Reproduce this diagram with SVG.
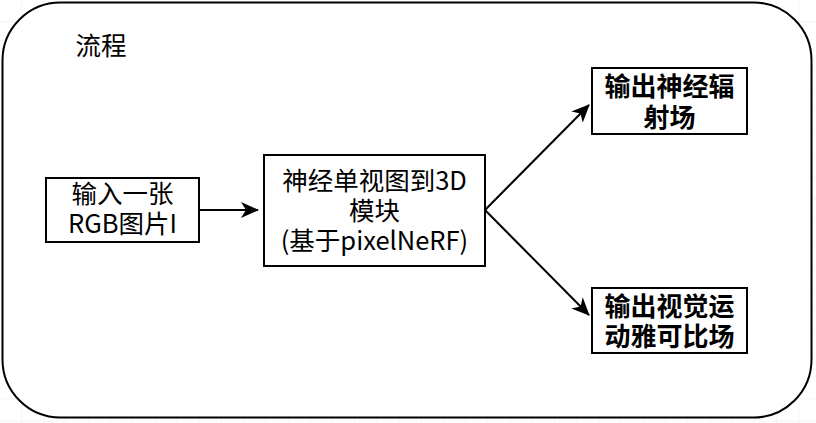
<svg xmlns="http://www.w3.org/2000/svg" width="816" height="423" viewBox="0 0 816 423">
<style>
.box{fill:#fff;stroke:#000;stroke-width:2}
.t{font-family:"Microsoft YaHei","Noto Sans CJK SC",sans-serif;font-size:25.5px;fill:#000;text-anchor:middle}
.b{font-weight:bold;font-size:26px}
.c{fill:none;stroke:#000;stroke-width:2}
</style>
<defs>
<pattern id="grid" width="22.2" height="22.2" patternUnits="userSpaceOnUse">
<path d="M22.2 0V22.2H0" fill="none" stroke="#ececec" stroke-width="1"/>
</pattern>
<marker id="arr" viewBox="0 0 18 16" refX="17" refY="8" markerWidth="18" markerHeight="16" markerUnits="userSpaceOnUse" orient="auto">
<path d="M0 0L18 8L0 16L5 8Z" fill="#000"/>
</marker>
</defs>
<rect width="816" height="423" fill="#fff"/>
<rect width="816" height="423" fill="url(#grid)"/>
<g id="container">
<rect x="2.5" y="2.5" width="809" height="415" rx="58" ry="58" fill="#fff" stroke="#000" stroke-width="2"/>
<text class="t" x="101" y="55">流程</text>
</g>
<g id="connectors">
<path class="c" d="M199 210H258" marker-end="url(#arr)"/>
<path class="c" d="M485 210L589 105" marker-end="url(#arr)"/>
<path class="c" d="M485 210L589 315" marker-end="url(#arr)"/>
</g>
<g id="input">
<rect class="box" x="46" y="178" width="153" height="64"/>
<text class="t" x="122.5" y="203">输入一张</text>
<text class="t" x="122.5" y="233">RGB图片I</text>
</g>
<g id="module">
<rect class="box" x="264" y="155" width="221" height="111"/>
<text class="t" x="374.5" y="190">神经单视图到3D</text>
<text class="t" x="374.5" y="220">模块</text>
<text class="t" x="374.5" y="250">(基于pixelNeRF)</text>
</g>
<g id="out1">
<rect class="box" x="592" y="68" width="155" height="66"/>
<text class="t b" x="669.5" y="96">输出神经辐</text>
<text class="t b" x="669.5" y="127">射场</text>
</g>
<g id="out2">
<rect class="box" x="592" y="288" width="155" height="65"/>
<text class="t b" x="669.5" y="316">输出视觉运</text>
<text class="t b" x="669.5" y="346">动雅可比场</text>
</g>
</svg>
